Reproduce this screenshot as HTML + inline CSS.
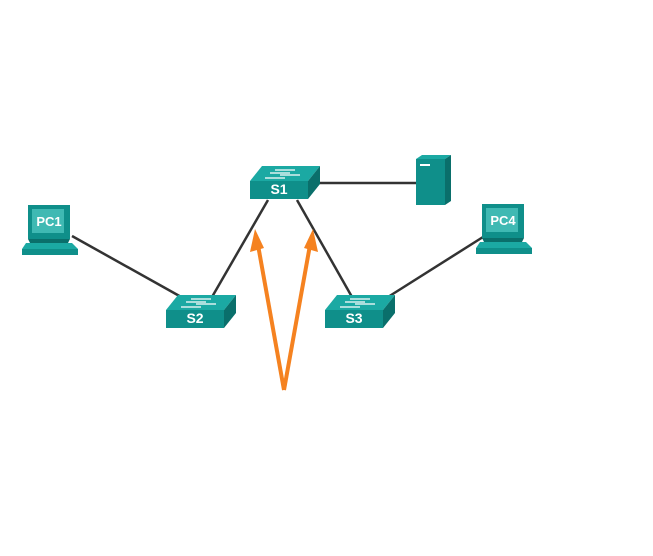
<!DOCTYPE html><html><head><style>body{margin:0;background:#fff}svg{display:block}text{font-family:"Liberation Sans",sans-serif;font-weight:bold;fill:#fff}</style></head><body>
<svg width="653" height="556" viewBox="0 0 653 556">
<defs>
<g id="sw">
<polygon points="0,15 12,0 70,0 58,15" fill="#1ba9a3"/>
<polygon points="0,15 58,15 58,33 0,33" fill="#0f8f8a"/>
<polygon points="58,15 70,0 70,18 58,33" fill="#0a6f6b"/>
<g stroke="#fff" stroke-width="1.2" fill="none"><line x1="25" y1="4" x2="45" y2="4"/><line x1="20" y1="7" x2="40" y2="7"/><line x1="30" y1="9" x2="50" y2="9"/><line x1="15" y1="12" x2="35" y2="12"/></g>
</g>
<g id="pc">
<rect x="6" y="0" width="42" height="34" fill="#0f8f8a"/>
<rect x="10" y="4" width="32" height="24" fill="#3fb9b3"/>
<polygon points="6,34 48,34 46,38 8,38" fill="#0a6f6b"/>
<polygon points="4,38 50,38 56,44 0,44" fill="#1ba9a3"/>
<polygon points="0,44 56,44 56,50 0,50" fill="#0f8f8a"/>
</g>
</defs>
<g stroke="#333" stroke-width="2.5">
<line x1="318" y1="183" x2="416" y2="183"/>
<line x1="268" y1="200" x2="212" y2="297"/>
<line x1="297" y1="200" x2="352" y2="297"/>
<line x1="72" y1="236" x2="183" y2="298"/>
<line x1="483" y1="237" x2="388" y2="297"/>
</g>
<g stroke="#f58220" stroke-width="4" fill="none"><line x1="284" y1="390" x2="258" y2="245"/><line x1="284" y1="390" x2="310" y2="245"/></g>
<polygon points="255,229 250,252 264,248" fill="#f58220"/>
<polygon points="313,229 304,248 318,252" fill="#f58220"/>
<use href="#sw" x="250" y="166"/><text x="279" y="194" font-size="14" text-anchor="middle">S1</text>
<use href="#sw" x="166" y="295"/><text x="195" y="323" font-size="14" text-anchor="middle">S2</text>
<use href="#sw" x="325" y="295"/><text x="354" y="323" font-size="14" text-anchor="middle">S3</text>
<polygon points="416,159 422,155 451,155 445,159" fill="#1ba9a3"/>
<rect x="416" y="159" width="29" height="46" fill="#0f8f8a"/>
<polygon points="445,159 451,155 451,201 445,205" fill="#0a6f6b"/>
<rect x="420" y="164" width="10" height="2" fill="#fff"/>
<use href="#pc" x="22" y="205"/><text x="49" y="226" font-size="13" text-anchor="middle">PC1</text>
<use href="#pc" x="476" y="204"/><text x="503" y="225" font-size="13" text-anchor="middle">PC4</text>
</svg></body></html>
